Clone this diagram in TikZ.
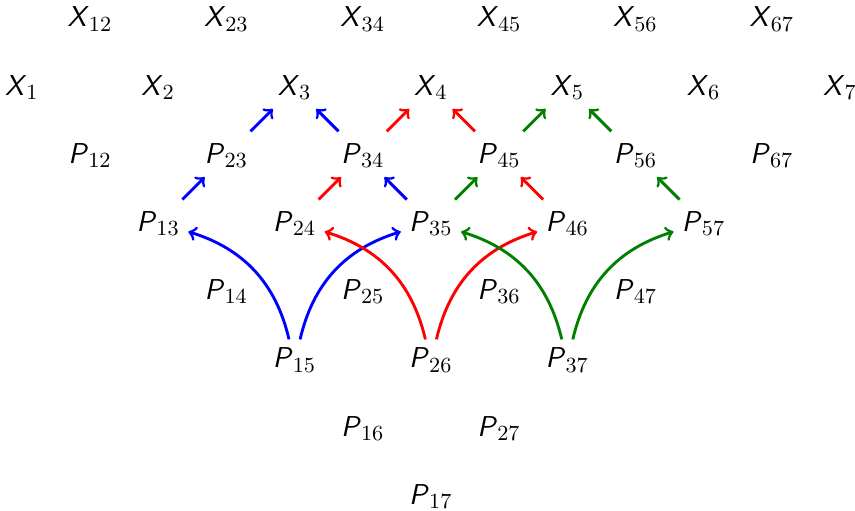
\documentclass[tikz,border=0pt]{standalone}
\usetikzlibrary{arrows.meta}
\DeclareMathSizes{12}{12}{9}{7}
\newcommand{\lbl}[2]{$\textsf{\textit{#1}}_{#2}$}
\begin{document}
\begin{tikzpicture}[>=to,every node/.style={font=\large},
  hop/.style={->,very thick,shorten <=0.5cm,shorten >=0.45cm},
  arc/.style={->,very thick}]
\useasboundingbox (-0.32,1.28) rectangle (12.22,-6.20);
% top rows
\foreach \i in {1,...,7} { \node (X\i) at ({2*\i-2},0) {\lbl{X}{\i}}; }
\foreach \i [evaluate=\i as \j using int(\i+1)] in {1,...,6} { \node (X\i\j) at ({2*\i-1},1) {\lbl{X}{\i\j}}; }
% triangle of P's
\foreach \i in {1,...,6} {
  \pgfmathtruncatemacro{\lo}{\i+1}
  \foreach \j in {\lo,...,7} { \node (P\i\j) at ({\i+\j-2},{\i-\j}) {\lbl{P}{\i\j}}; }
}
% blue
\draw[hop,blue] (P13.center) -- (P23.center);
\draw[hop,blue] (P23.center) -- (X3.center);
\draw[hop,blue] (P34.center) -- (X3.center);
\draw[hop,blue] (P35.center) -- (P34.center);
\draw[arc,blue] (P15) to[bend right] (P13);
\draw[arc,blue] (P15) to[bend left] (P35);
% red
\draw[hop,red] (P24.center) -- (P34.center);
\draw[hop,red] (P34.center) -- (X4.center);
\draw[hop,red] (P45.center) -- (X4.center);
\draw[hop,red] (P46.center) -- (P45.center);
\draw[arc,red] (P26) to[bend right] (P24);
\draw[arc,red] (P26) to[bend left] (P46);
% green
\draw[hop,green!50!black] (P35.center) -- (P45.center);
\draw[hop,green!50!black] (P45.center) -- (X5.center);
\draw[hop,green!50!black] (P56.center) -- (X5.center);
\draw[hop,green!50!black] (P57.center) -- (P56.center);
\draw[arc,green!50!black] (P37) to[bend right] (P35);
\draw[arc,green!50!black] (P37) to[bend left] (P57);
\end{tikzpicture}
\end{document}
